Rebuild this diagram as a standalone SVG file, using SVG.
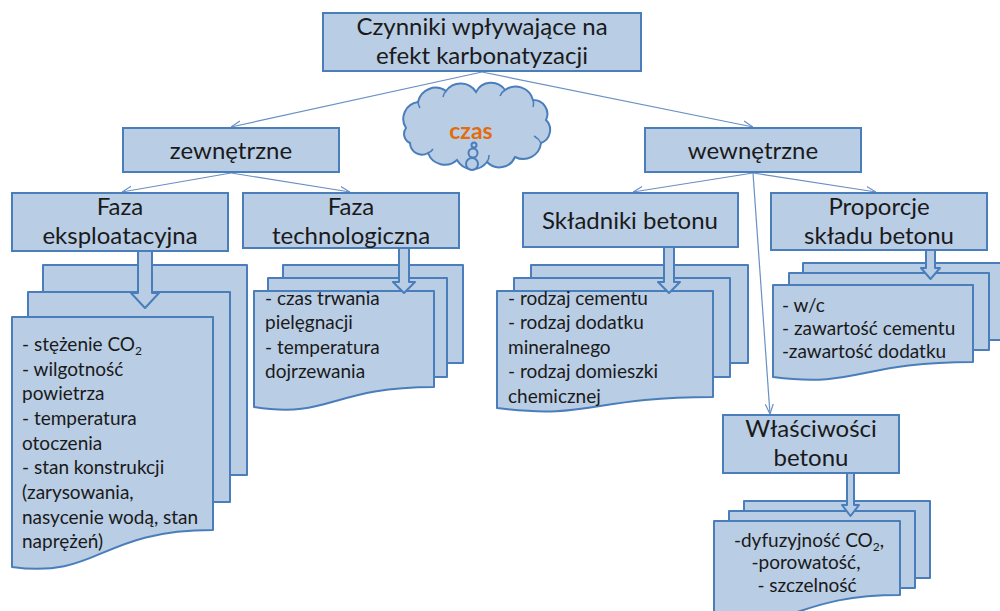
<svg xmlns="http://www.w3.org/2000/svg" width="1000" height="611" viewBox="0 0 1000 611">
<defs>
<style>
.box{fill:#b9cde5;stroke:#4a7ebb;stroke-width:2}
.sheet{fill:#b9cde5;stroke:#4a7ebb;stroke-width:2;stroke-linejoin:round}
.t{font-family:Lato,"Liberation Sans",sans-serif;font-size:24px;fill:#1a1a1a;text-anchor:middle}
.d{font-family:Lato,"Liberation Sans",sans-serif;font-size:19px;fill:#1a1a1a}
.con{stroke:#6a8fc4;stroke-width:1.2;fill:none;marker-end:url(#ah)}
.sub{font-size:12px}
</style>
<marker id="ah" viewBox="0 0 10 10" refX="10" refY="5" markerWidth="10" markerHeight="10" markerUnits="userSpaceOnUse" orient="auto">
<path d="M0,1 L10,5 L0,9" fill="none" stroke="#6a8fc4" stroke-width="1.2"/>
</marker>
</defs>
<rect width="1000" height="611" fill="#ffffff"/>

<g id="connectors">
<line class="con" x1="482" y1="72" x2="231" y2="127"/>
<line class="con" x1="482" y1="72" x2="753" y2="127"/>
<line class="con" x1="231" y1="173" x2="122" y2="192"/>
<line class="con" x1="231" y1="173" x2="350" y2="192"/>
<line class="con" x1="753" y1="173" x2="633" y2="192"/>
<line class="con" x1="753" y1="173" x2="876" y2="192"/>
<line class="con" x1="753" y1="173" x2="770" y2="414"/>
</g>

<g id="root">
<rect class="box" x="323" y="13" width="318" height="58"/>
<text class="t" x="482" y="35">Czynniki wpływające na</text>
<text class="t" x="482" y="64">efekt karbonatyzacji</text>
</g>

<g id="czas">
<path class="box" d="M406,128 A17,17 0 0 1 418,102 A18,18 0 0 1 446,91 A18,18 0 0 1 476,92 A17,17 0 0 1 505,90 A18,18 0 0 1 533,100 A14,14 0 0 1 546,120 A14,14 0 0 1 541,143 A18,18 0 0 1 515,157 A17,17 0 0 1 487,162 A18,18 0 0 1 457,160 A18,18 0 0 1 428,153 A12,12 0 0 1 410,143 A10,10 0 0 1 406,128 Z"/>
<path d="M418,102 A14,14 0 0 0 420,108 M446,91 A12,12 0 0 0 443,97 M505,90 A12,12 0 0 0 500,96 M533,100 A12,12 0 0 1 533,107 M541,143 A16,16 0 0 0 534,136 M487,162 A12,12 0 0 0 489,155 M428,153 A10,10 0 0 0 433,149" fill="none" stroke="#4a7ebb" stroke-width="1.5"/>
<text x="471" y="139" font-family="Lato,'Liberation Sans',sans-serif" font-size="23" font-weight="bold" fill="#e46c0a" text-anchor="middle">czas</text>
<circle class="box" cx="472" cy="164" r="6"/>
<circle class="box" cx="473" cy="153" r="4.5"/>
<circle class="box" cx="474" cy="145" r="2.5"/>
</g>

<g id="zewnetrzne">
<rect class="box" x="123" y="128" width="216" height="44"/>
<text class="t" x="231" y="159">zewnętrzne</text>
</g>

<g id="wewnetrzne">
<rect class="box" x="645" y="128" width="216" height="44"/>
<text class="t" x="753" y="159">wewnętrzne</text>
</g>

<g id="faza-eksploatacyjna">
<rect class="box" x="12" y="193" width="216" height="58"/>
<text class="t" x="120" y="215">Faza</text>
<text class="t" x="120" y="244">eksploatacyjna</text>
<rect class="sheet" x="43" y="265" width="204" height="210"/>
<rect class="sheet" x="28" y="292" width="202" height="210"/>
<path class="sheet" d="M12,317 H213 V530 C99,530 99,579 12,567 Z"/>
<path class="sheet" d="M138,251 H152 V293 H159 L145,308 L131,293 H138 Z"/>
<text class="d" x="22" y="351">- stężenie CO<tspan class="sub" dy="4">2</tspan></text>
<text class="d" x="22" y="376">- wilgotność</text>
<text class="d" x="22" y="400">powietrza</text>
<text class="d" x="22" y="425">-  temperatura</text>
<text class="d" x="22" y="450">otoczenia</text>
<text class="d" x="22" y="474">- stan konstrukcji</text>
<text class="d" x="22" y="499">(zarysowania,</text>
<text class="d" x="22" y="524">nasycenie wodą, stan</text>
<text class="d" x="22" y="548">naprężeń)</text>
</g>

<g id="faza-technologiczna">
<rect class="box" x="243" y="193" width="216" height="55"/>
<text class="t" x="351" y="215">Faza</text>
<text class="t" x="351" y="244">technologiczna</text>
<rect class="sheet" x="283" y="265" width="180" height="98"/>
<rect class="sheet" x="268" y="278" width="179" height="99"/>
<path class="sheet" d="M254,291 H434 V387 C331,387 331,419 254,407 Z"/>
<path class="sheet" d="M399,248 H409 V282 H415 L404,293 L393,282 H399 Z"/>
<text class="d" x="265" y="305">- czas trwania</text>
<text class="d" x="265" y="329">pielęgnacji</text>
<text class="d" x="265" y="354">- temperatura</text>
<text class="d" x="265" y="378">dojrzewania</text>
</g>

<g id="skladniki-betonu">
<rect class="box" x="523" y="193" width="215" height="54"/>
<text class="t" x="630" y="229">Składniki betonu</text>
<rect class="sheet" x="531" y="265" width="217" height="98"/>
<rect class="sheet" x="514" y="278" width="216" height="99"/>
<path class="sheet" d="M497,291 H713 V397 C590,397 590,420 497,408 Z"/>
<path class="sheet" d="M664,247 H674 V282 H680 L669,293 L658,282 H664 Z"/>
<text class="d" x="508" y="305">- rodzaj cementu</text>
<text class="d" x="508" y="329">- rodzaj dodatku</text>
<text class="d" x="508" y="354">mineralnego</text>
<text class="d" x="508" y="378">- rodzaj domieszki</text>
<text class="d" x="508" y="403">chemicznej</text>
</g>

<g id="proporcje">
<rect class="box" x="771" y="193" width="216" height="57"/>
<text class="t" x="879" y="215">Proporcje</text>
<text class="t" x="879" y="244">składu betonu</text>
<rect class="sheet" x="803" y="263" width="202" height="77"/>
<rect class="sheet" x="789" y="273" width="200" height="77"/>
<path class="sheet" d="M773,285 H973 V362 C859,362 859,388 773,377 Z"/>
<path class="sheet" d="M926,250 H935 V268 H940 L930.5,279 L921,268 H926 Z"/>
<text class="d" x="782" y="312">- w/c</text>
<text class="d" x="782" y="335">- zawartość cementu</text>
<text class="d" x="782" y="358">-zawartość dodatku</text>
</g>

<g id="wlasciwosci">
<rect class="box" x="723" y="415" width="176" height="58"/>
<text class="t" x="811" y="437">Właściwości</text>
<text class="t" x="811" y="466">betonu</text>
<rect class="sheet" x="744" y="501" width="186" height="77"/>
<rect class="sheet" x="729" y="511" width="186" height="77"/>
<path class="sheet" d="M714,521 H900 V595 C794,595 794,632 714,620 Z"/>
<path class="sheet" d="M847,473 H854 V505 H859 L850.5,516 L842,505 H847 Z"/>
<text class="d" x="809" y="547" text-anchor="middle">-dyfuzyjność CO<tspan class="sub" dy="4">2</tspan><tspan dy="-4">,</tspan></text>
<text class="d" x="806" y="569" text-anchor="middle">-porowatość,</text>
<text class="d" x="807" y="592" text-anchor="middle">- szczelność</text>
</g>
</svg>
